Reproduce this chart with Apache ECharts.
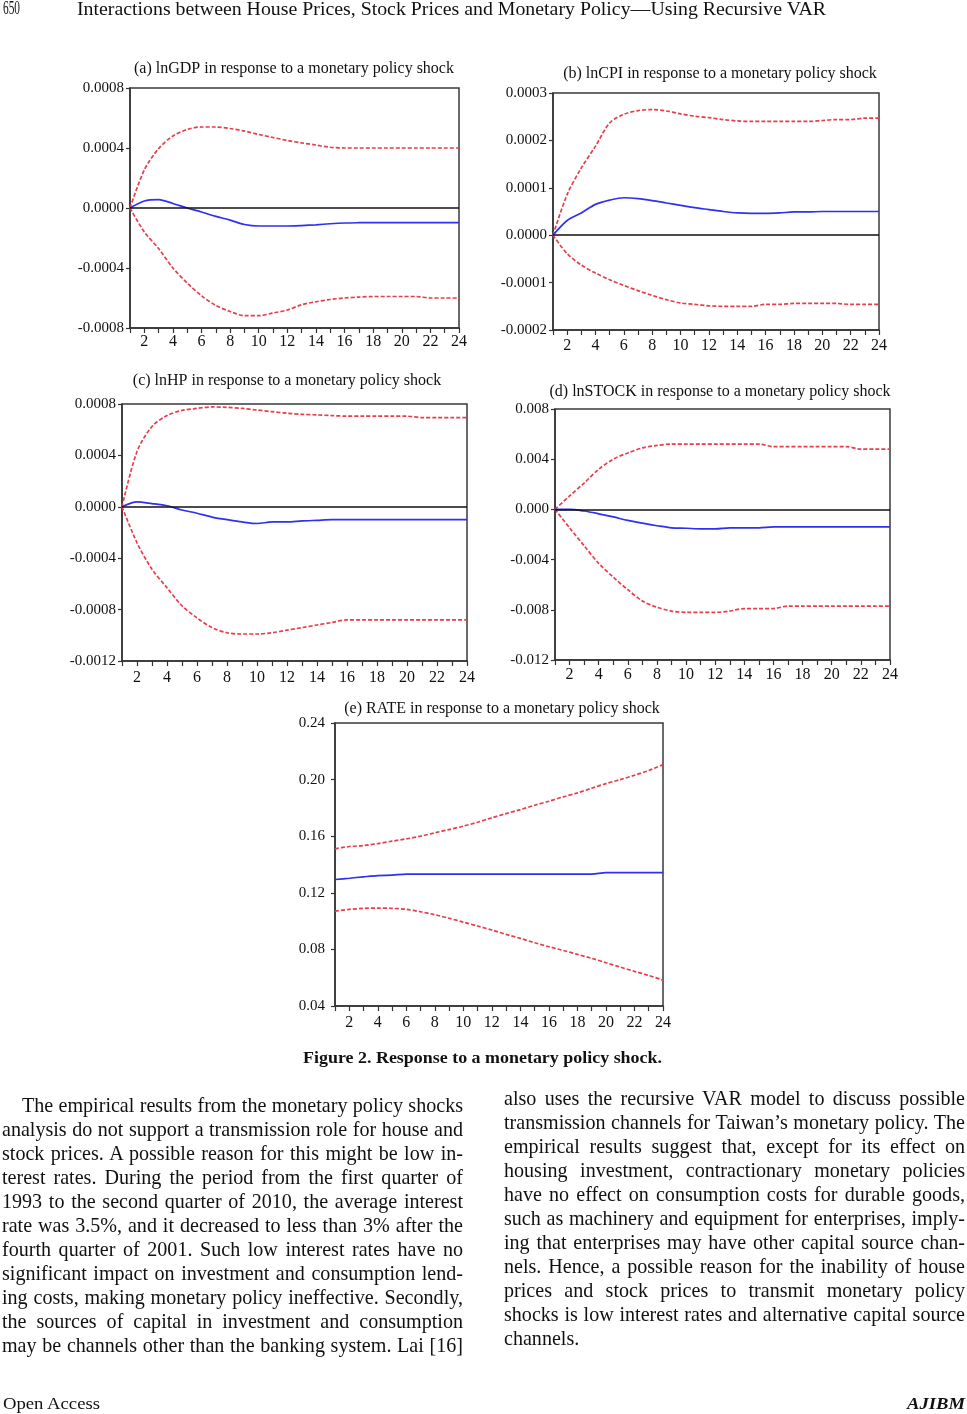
<!DOCTYPE html>
<html>
<head>
<meta charset="utf-8">
<script src="https://cdn.jsdelivr.net/npm/echarts@6/dist/echarts.min.js"></script>
<style>
  html, body { margin: 0; padding: 0; background: #fff; }
  body { width: 967px; height: 1414px; position: relative; overflow: hidden; font-family: "Liberation Serif", "Times New Roman", serif; color: #111; }
  #chart { position: absolute; left: 0; top: 0; width: 967px; height: 1414px; }
  .ln { position: absolute; white-space: nowrap; transform-origin: 0 50%; font-family: "Liberation Serif", "Times New Roman", serif; }
</style>
</head>
<body>
<div id="chart"></div>
<script>
// ---------------- data ----------------
const horizon = [1,2,3,4,5,6,7,8,9,10,11,12,13,14,15,16,17,18,19,20,21,22,23,24];
const xTickLabels = ['2','4','6','8','10','12','14','16','18','20','22','24'];

// (a) lnGDP
const gdpResp  = [0, 0.000047, 0.000056, 0.00003, 0, -0.000027, -0.000056, -0.000081, -0.00011, -0.00012, -0.00012, -0.00012, -0.000117, -0.000112, -0.000105, -0.0001, -0.000098, -0.000097, -0.000097, -0.000097, -0.000097, -0.000097, -0.000097, -0.000097];
const gdpUpper = [0, 0.000254, 0.000396, 0.00048, 0.000524, 0.00054, 0.00054, 0.00053, 0.000513, 0.00049, 0.00047, 0.00045, 0.000434, 0.00042, 0.000405, 0.0004, 0.0004, 0.0004, 0.0004, 0.0004, 0.0004, 0.0004, 0.0004, 0.0004];
const gdpLower = [0, -0.00016, -0.00027, -0.0004, -0.0005, -0.000585, -0.00065, -0.00069, -0.000718, -0.000718, -0.0007, -0.00068, -0.000645, -0.000625, -0.00061, -0.0006, -0.000594, -0.00059, -0.00059, -0.00059, -0.00059, -0.0006, -0.0006, -0.0006];

// (b) lnCPI
const cpiResp  = [0, 0.000031, 0.000047, 0.000065, 0.000074, 0.000079, 0.000077, 0.000073, 0.000068, 0.000063, 0.000058, 0.000054, 0.00005, 0.000047, 0.000046, 0.000046, 0.000047, 0.000049, 0.000049, 0.00005, 0.00005, 0.00005, 0.00005, 0.00005];
const cpiUpper = [0, 0.000086, 0.000142, 0.000188, 0.000237, 0.000255, 0.000263, 0.000265, 0.000262, 0.000256, 0.000251, 0.000248, 0.000244, 0.000241, 0.00024, 0.00024, 0.00024, 0.00024, 0.00024, 0.000242, 0.000244, 0.000244, 0.000247, 0.000247];
const cpiLower = [0, -0.000039, -0.000063, -0.00008, -0.000094, -0.000106, -0.000117, -0.000127, -0.000136, -0.000143, -0.000146, -0.000149, -0.00015, -0.00015, -0.00015, -0.000146, -0.000146, -0.000144, -0.000144, -0.000144, -0.000144, -0.000146, -0.000146, -0.000146];

// (c) lnHP
const hpResp  = [0, 0.000038, 0.000025, 0.000008, -0.000025, -0.00005, -0.00008, -0.0001, -0.000118, -0.00013, -0.000118, -0.000118, -0.00011, -0.000105, -0.0001, -0.0001, -0.0001, -0.0001, -0.0001, -0.0001, -0.0001, -0.0001, -0.0001, -0.0001];
const hpUpper = [0, 0.00043, 0.000625, 0.00071, 0.00075, 0.000766, 0.000777, 0.000774, 0.000766, 0.000753, 0.00074, 0.000728, 0.00072, 0.000715, 0.00071, 0.000705, 0.000705, 0.000705, 0.000705, 0.000705, 0.000694, 0.000694, 0.000694, 0.000694];
const hpLower = [0, -0.00028, -0.000486, -0.00063, -0.00077, -0.000865, -0.00094, -0.00098, -0.00099, -0.00099, -0.00098, -0.00096, -0.00094, -0.00092, -0.0009, -0.00088, -0.00088, -0.00088, -0.00088, -0.00088, -0.00088, -0.00088, -0.00088, -0.00088];

// (d) lnSTOCK
const stockResp  = [0, 0, -0.00013, -0.00035, -0.0006, -0.00088, -0.0011, -0.0013, -0.00147, -0.0015, -0.00155, -0.00155, -0.00147, -0.00147, -0.00147, -0.0014, -0.0014, -0.0014, -0.0014, -0.0014, -0.0014, -0.0014, -0.0014, -0.0014];
const stockUpper = [0, 0.00107, 0.0021, 0.0032, 0.004, 0.0045, 0.0049, 0.0051, 0.0052, 0.0052, 0.0052, 0.0052, 0.0052, 0.0052, 0.0052, 0.005, 0.005, 0.005, 0.005, 0.005, 0.005, 0.0048, 0.0048, 0.0048];
const stockLower = [0, -0.00147, -0.0029, -0.0043, -0.0054, -0.0064, -0.0073, -0.0078, -0.0081, -0.0082, -0.0082, -0.0082, -0.0081, -0.0079, -0.0079, -0.0079, -0.0077, -0.0077, -0.0077, -0.0077, -0.0077, -0.0077, -0.0077, -0.0077];

// (e) RATE
const rateResp  = [0.1294, 0.1303, 0.1313, 0.1322, 0.1325, 0.1332, 0.1332, 0.1332, 0.1332, 0.1332, 0.1332, 0.1332, 0.1332, 0.1332, 0.1332, 0.1332, 0.1332, 0.1332, 0.1332, 0.1343, 0.1343, 0.1343, 0.1343, 0.1343];
const rateUpper = [0.1511, 0.1527, 0.1534, 0.1548, 0.1565, 0.1581, 0.16, 0.1624, 0.1647, 0.1671, 0.1699, 0.173, 0.176, 0.1788, 0.1819, 0.1847, 0.1878, 0.1906, 0.1939, 0.1972, 0.2, 0.2031, 0.2064, 0.2106];
const rateLower = [0.1071, 0.1083, 0.109, 0.1092, 0.109, 0.1083, 0.1066, 0.1045, 0.102, 0.0993, 0.0965, 0.0937, 0.0906, 0.0878, 0.0847, 0.0819, 0.0793, 0.0765, 0.0737, 0.0706, 0.0675, 0.0645, 0.0616, 0.0583];

const panelTitles = [
  '(a) lnGDP in response to a monetary policy shock',
  '(b) lnCPI in response to a monetary policy shock',
  '(c) lnHP in response to a monetary policy shock',
  '(d) lnSTOCK in response to a monetary policy shock',
  '(e) RATE in response to a monetary policy shock'
];

// ---------------- layout ----------------
const FONT = '"Liberation Serif", "Times New Roman", serif';
const panels = [
  { resp: gdpResp, up: gdpUpper, lo: gdpLower, min: -0.0008, max: 0.0008, step: 0.0004, dec: 4,
    grid: { left: 130, top: 88, width: 329, height: 240 }, tx: 294, ty: 70, ym: 6, xm: 6 },
  { resp: cpiResp, up: cpiUpper, lo: cpiLower, min: -0.0002, max: 0.0003, step: 0.0001, dec: 4,
    grid: { left: 553, top: 93, width: 326, height: 237 }, tx: 720, ty: 75, ym: 6, xm: 8 },
  { resp: hpResp, up: hpUpper, lo: hpLower, min: -0.0012, max: 0.0008, step: 0.0004, dec: 4,
    grid: { left: 122, top: 404, width: 345, height: 257 }, tx: 287, ty: 382, ym: 6, xm: 9 },
  { resp: stockResp, up: stockUpper, lo: stockLower, min: -0.012, max: 0.008, step: 0.004, dec: 3,
    grid: { left: 555, top: 409, width: 335, height: 251 }, tx: 720, ty: 393, ym: 6, xm: 7 },
  { resp: rateResp, up: rateUpper, lo: rateLower, min: 0.04, max: 0.24, step: 0.04, dec: 2,
    grid: { left: 335, top: 723, width: 328, height: 283 }, tx: 502, ty: 710, ym: 10, xm: 9 }
];

const toPts = arr => horizon.map((h, i) => [h, arr[i]]);

const option = {
  animation: false,
  backgroundColor: 'transparent',
  title: [], grid: [], xAxis: [], yAxis: [], series: []
};

panels.forEach((p, i) => {
  option.title.push({
    text: panelTitles[i], left: p.tx, top: p.ty - 9, textAlign: 'center', padding: 0,
    textStyle: { fontFamily: FONT, fontSize: 16, fontWeight: 'normal', color: '#111' }
  });
  option.grid.push(Object.assign({ show: true, borderColor: '#3a3a3a', borderWidth: 1.5, backgroundColor: 'transparent' }, p.grid));
  option.xAxis.push({
    type: 'value', gridIndex: i, min: 1, max: 24, interval: 1,
    axisLine: { show: true, onZero: false, lineStyle: { color: '#333', width: 1.5 } },
    axisTick: { show: true, inside: false, length: 5, lineStyle: { color: '#333', width: 1.2 } },
    splitLine: { show: false },
    axisLabel: {
      margin: p.xm, fontFamily: FONT, fontSize: 16, color: '#111',
      showMinLabel: true, showMaxLabel: true,
      formatter: v => (xTickLabels.indexOf(String(v)) >= 0 ? String(v) : '')
    }
  });
  option.yAxis.push({
    type: 'value', gridIndex: i, min: p.min, max: p.max, interval: p.step,
    axisLine: { show: true, onZero: false, lineStyle: { color: '#333', width: 1.5 } },
    axisTick: { show: true, inside: false, length: 4, lineStyle: { color: '#333', width: 1.2 } },
    splitLine: { show: false },
    axisLabel: {
      margin: p.ym, fontFamily: FONT, fontSize: 15, color: '#111',
      formatter: v => (Math.abs(v) < 1e-12 ? 0 : v).toFixed(p.dec)
    }
  });
  const base = { type: 'line', xAxisIndex: i, yAxisIndex: i, showSymbol: false, symbol: 'none', silent: true, smooth: 0.3 };
  option.series.push(Object.assign({}, base, {
    data: toPts(p.up), lineStyle: { color: '#e63e4e', width: 1.7, type: [4, 2] }, z: 3
  }));
  option.series.push(Object.assign({}, base, {
    data: toPts(p.lo), lineStyle: { color: '#e63e4e', width: 1.7, type: [4, 2] }, z: 3
  }));
  const blue = Object.assign({}, base, {
    data: toPts(p.resp), lineStyle: { color: '#3030f0', width: 1.7 }, z: 4
  });
  if (p.min < 0) {
    blue.markLine = {
      silent: true, symbol: 'none', label: { show: false },
      lineStyle: { color: '#111', width: 1.5, type: 'solid' },
      data: [{ yAxis: 0 }]
    };
  }
  option.series.push(blue);
});

const chart = echarts.init(document.getElementById('chart'), null, { renderer: 'canvas', width: 967, height: 1414 });
chart.setOption(option);

// ---------------- page text ----------------
const headerNum = '650';
const headerTitle = 'Interactions between House Prices, Stock Prices and Monetary Policy\u2014Using Recursive VAR';
const caption = 'Figure 2. Response to a monetary policy shock.';
const leftLines = [
  'The empirical results from the monetary policy shocks',
  'analysis do not support a transmission role for house and',
  'stock prices. A possible reason for this might be low in-',
  'terest rates. During the period from the first quarter of',
  '1993 to the second quarter of 2010, the average interest',
  'rate was 3.5%, and it decreased to less than 3% after the',
  'fourth quarter of 2001. Such low interest rates have no',
  'significant impact on investment and consumption lend-',
  'ing costs, making monetary policy ineffective. Secondly,',
  'the sources of capital in investment and consumption',
  'may be channels other than the banking system. Lai [16]'
];
const rightLines = [
  'also uses the recursive VAR model to discuss possible',
  'transmission channels for Taiwan\u2019s monetary policy. The',
  'empirical results suggest that, except for its effect on',
  'housing investment, contractionary monetary policies',
  'have no effect on consumption costs for durable goods,',
  'such as machinery and equipment for enterprises, imply-',
  'ing that enterprises may have other capital source chan-',
  'nels. Hence, a possible reason for the inability of house',
  'prices and stock prices to transmit monetary policy',
  'shocks is low interest rates and alternative capital source',
  'channels.'
];
const footLeft = 'Open Access';
const footRight = 'AJIBM';

function place(text, x, w, cy, size, mode, extra) {
  const d = document.createElement('div');
  d.className = 'ln';
  d.textContent = text;
  d.style.fontSize = size + 'px';
  d.style.lineHeight = (size * 1.2) + 'px';
  d.style.left = x + 'px';
  d.style.top = (cy - size * 0.6) + 'px';
  if (extra) Object.assign(d.style, extra);
  document.body.appendChild(d);
  const nat = d.getBoundingClientRect().width;
  if (mode === 'justify') {
    const gaps = (text.match(/ /g) || []).length;
    if (gaps > 0) d.style.wordSpacing = ((w - nat) / gaps) + 'px';
  } else if (mode === 'fit') {
    d.style.transform = 'scaleX(' + (w / nat) + ')';
  }
  return d;
}

// calibrate body font size from a normally-spaced line of the reference
function measure(text, size) {
  const d = document.createElement('span');
  d.className = 'ln';
  d.style.fontSize = size + 'px';
  d.textContent = text;
  document.body.appendChild(d);
  const w = d.getBoundingClientRect().width;
  d.remove();
  return w;
}
const calA = 17.5 * 461 / measure('ing costs, making monetary policy ineffective. Secondly,', 17.5);
const calB = 17.5 * 461 / measure('shocks is low interest rates and alternative capital source', 17.5);
const bodySize = Math.min(calA, calB) - 0.2;

place(headerNum, 3, 17, 9, 18, 'fit');
place(headerTitle, 77, 749, 9, 19, 'fit');
place(caption, 303, 359, 1058, 16.5, 'fit', { fontWeight: 'bold' });

leftLines.forEach((t, i) => {
  const x = i === 0 ? 22 : 2;
  place(t, x, 463 - x, 1105 + i * 24, bodySize, 'justify');
});
rightLines.forEach((t, i) => {
  place(t, 504, 965 - 504, 1098 + i * 24, bodySize, i === rightLines.length - 1 ? 'left' : 'justify');
});
place(footLeft, 3, 97, 1404, 16, 'fit');
place(footRight, 907, 58, 1404, 16, 'fit', { fontWeight: 'bold', fontStyle: 'italic' });
</script>
</body>
</html>
